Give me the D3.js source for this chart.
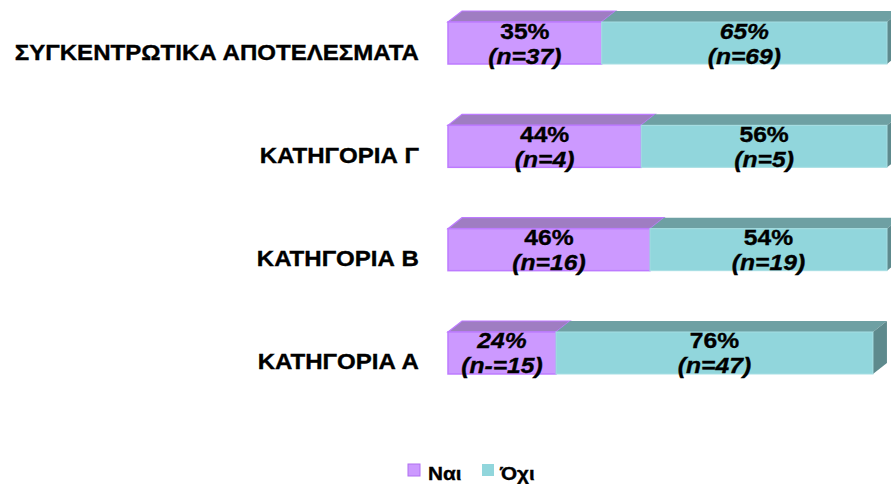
<!DOCTYPE html>
<html>
<head>
<meta charset="utf-8">
<script src="https://cdn.jsdelivr.net/npm/d3@7"></script>
<style>
  html, body { margin: 0; padding: 0; background: #ffffff; }
  svg { display: block; }
  text { font-family: "Liberation Sans", Arial, sans-serif; font-weight: bold; fill: #000; stroke: #000; stroke-width: 0.35px; }
</style>
</head>
<body>
<div id="chart"></div>
<script>
// ---- data (top to bottom) ----
const categories = ["ΣΥΓΚΕΝΤΡΩΤΙΚΑ ΑΠΟΤΕΛΕΣΜΑΤΑ", "ΚΑΤΗΓΟΡΙΑ Γ", "ΚΑΤΗΓΟΡΙΑ Β", "ΚΑΤΗΓΟΡΙΑ Α"];
const seriesNames = ["Ναι", "Όχι"];
const yesValues = [35, 44, 46, 24.6];   // bar lengths as drawn
const noValues  = [65, 56, 54, 72.2];
const yesPctLabels = ["35%", "44%", "46%", "24%"];
const noPctLabels  = ["65%", "56%", "54%", "76%"];
const yesNLabels = ["(n=37)", "(n=4)", "(n=16)", "(n-=15)"];
const noNLabels  = ["(n=69)", "(n=5)", "(n=19)", "(n=47)"];

// ---- styles ----
const yesPctItalic = [false, false, false, true];
const noPctItalic  = [true, false, false, false];
const W = 891, H = 484;
const stretch = 1.12;
const colors = {
  yes: { front: "#CC99FF", top: "#9F7DC2", stroke: "#BD7BFF" },
  no:  { front: "#91D6DC", top: "#6EA0A3", side: "#5E8A8D", stroke: "#A6DEE3" }
};
const depthX = 14, depthY = 11;

const svg = d3.select("#chart").append("svg").attr("width", W).attr("height", H);

function label(sel, tx, ty, txt, size, anchor, italic) {
  return sel.append("text")
    .attr("transform", `translate(${tx},${ty}) scale(${stretch},1)`)
    .attr("text-anchor", anchor)
    .attr("font-size", size)
    .attr("font-style", italic ? "italic" : "normal")
    .text(txt);
}

const x = d3.scaleLinear().domain([0, 100]).range([448, 887]);
const step = 103.33, barH = 42;
const y = d3.scaleBand().domain(categories)
  .range([22, 22 + step * (categories.length - 1) + barH])
  .paddingInner(1 - barH / step).paddingOuter(0);

const rows = categories.map((c, i) => ({
  cat: c,
  segs: [
    { key: "yes", x0: 0, x1: yesValues[i], pct: yesPctLabels[i], n: yesNLabels[i], it: yesPctItalic[i] },
    { key: "no", x0: yesValues[i], x1: yesValues[i] + noValues[i], pct: noPctLabels[i], n: noNLabels[i], it: noPctItalic[i] }
  ]
}));

const g = svg.append("g");

rows.forEach(r => {
  const top = y(r.cat), bot = top + y.bandwidth();
  r.segs.forEach(s => {
    const a = x(s.x0), b = x(s.x1);
    const c = colors[s.key];
    g.append("path")
      .attr("d", `M${a},${top}L${b},${top}L${b + depthX},${top - depthY}L${a + depthX},${top - depthY}Z`)
      .attr("fill", c.top)
      .attr("stroke", s.key === "yes" ? c.stroke : "none")
      .attr("stroke-width", 1.2);
  });
  const last = r.segs[r.segs.length - 1];
  const e = x(last.x1);
  g.append("path")
    .attr("d", `M${e},${top}L${e + depthX},${top - depthY}L${e + depthX},${bot - depthY}L${e},${bot}Z`)
    .attr("fill", colors.no.side);
  r.segs.forEach(s => {
    const a = x(s.x0), b = x(s.x1);
    const c = colors[s.key];
    g.append("rect")
      .attr("x", a).attr("y", top)
      .attr("width", b - a).attr("height", y.bandwidth())
      .attr("fill", c.front)
      .attr("stroke", c.stroke)
      .attr("stroke-width", s.key === "yes" ? 1.5 : 1);
  });
  r.segs.forEach(s => {
    const cx = (x(s.x0) + x(s.x1)) / 2;
    label(g, cx, top + 16.5, s.pct, 22, "middle", s.it);
    label(g, cx, top + 41.5, s.n, 22, "middle", true);
  });
  label(g, 419, top + 37.5, r.cat, 21.5, "end", false);
});

// legend
const legend = svg.append("g");
const legItems = [
  { name: seriesNames[0], c: colors.yes, sx: 408, tx: 428, border: "#B070F0" },
  { name: seriesNames[1], c: colors.no, sx: 482, tx: 500, border: "none" }
];
legItems.forEach(it => {
  legend.append("rect").attr("x", it.sx).attr("y", 464).attr("width", 12).attr("height", 12)
    .attr("fill", it.c.front).attr("stroke", it.border).attr("stroke-width", 1);
  label(legend, it.tx, 480, it.name, 18.5, "start", false);
});
</script>
</body>
</html>
